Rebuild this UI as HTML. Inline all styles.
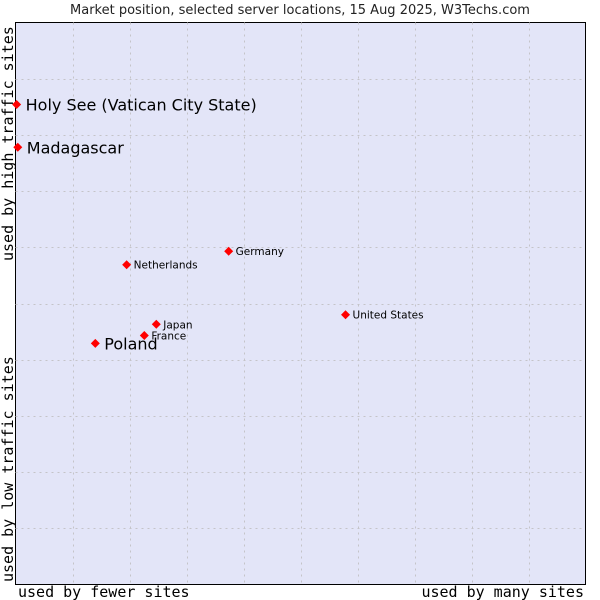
<!DOCTYPE html>
<html><head><meta charset="utf-8"><style>
body{margin:0;background:#fff;}
svg{display:block;font-family:"DejaVu Sans","Liberation Sans",sans-serif;}
</style></head><body>
<svg width="600" height="600">
<text x="300" y="14" text-anchor="middle" font-size="13" fill="#222">Market position, selected server locations, 15 Aug 2025, W3Techs.com</text>
<rect x="15.5" y="22.5" width="570" height="562" fill="#e3e5f8" stroke="#000"/>
<g id="grid"></g>
<g id="pts"></g>
<text x="18" y="597" font-family="DejaVu Sans Mono,Liberation Mono,monospace" font-size="15" fill="#000">used by fewer sites</text>
<text x="584" y="597" text-anchor="end" font-family="DejaVu Sans Mono,Liberation Mono,monospace" font-size="15" fill="#000">used by many sites</text>
<text transform="translate(13,582) rotate(-90)" font-family="DejaVu Sans Mono,Liberation Mono,monospace" font-size="15" fill="#000">used by low traffic sites</text>
<text transform="translate(13,261) rotate(-90)" font-family="DejaVu Sans Mono,Liberation Mono,monospace" font-size="15" fill="#000">used by high traffic sites</text>
</svg>
<script>
const names=["Holy See (Vatican City State)","Madagascar","Netherlands","Germany","United States","Japan","France","Poland"];
const xVals=[0.2,0.4,19.5,37.4,57.9,24.7,22.6,14.0];
const yVals=[85.4,77.8,56.9,59.3,48.0,46.3,44.3,42.9];
const big=[true,true,false,false,false,false,false,true];
const L=15.5,R=585.5,T=22.5,B=584.5;
const sx=v=>L+(R-L)*v/100, sy=v=>B-(B-T)*v/100;
const NS="http://www.w3.org/2000/svg";
const g=document.getElementById('grid');
for(let i=1;i<10;i++){
  const x=Math.round(L+57*i)+0.5;
  const l=document.createElementNS(NS,'line');
  
  
  l.setAttribute('x1',x);l.setAttribute('x2',x);l.setAttribute('y1',T);l.setAttribute('y2',B);
  l.setAttribute('stroke','#c4c4c8');l.setAttribute('stroke-dasharray','2,4');g.appendChild(l);
  const y=Math.round(T+56.2*i)+0.5;
  const h=document.createElementNS(NS,'line');
  
  
  h.setAttribute('x1',L);h.setAttribute('x2',R);h.setAttribute('y1',y);h.setAttribute('y2',y);
  h.setAttribute('stroke','#c4c4c8');h.setAttribute('stroke-dasharray','2,4');g.appendChild(h);
}
const p=document.getElementById('pts');
names.forEach((n,i)=>{
  const x=sx(xVals[i]),y=sy(yVals[i]);
  const d=document.createElementNS(NS,'path');
  
  
  d.setAttribute('d',`M${x} ${y-4.5}L${x+4.5} ${y}L${x} ${y+4.5}L${x-4.5} ${y}Z`);
  d.setAttribute('fill','#f00');p.appendChild(d);
  const t=document.createElementNS(NS,'text');
  
  
  t.setAttribute('x',x+(big[i]?9:7));t.setAttribute('y',y+(big[i]?6:4));
  t.setAttribute('font-size',big[i]?16:10.5);t.setAttribute('fill','#000');
  t.textContent=n;p.appendChild(t);
});
</script>
</body></html>
